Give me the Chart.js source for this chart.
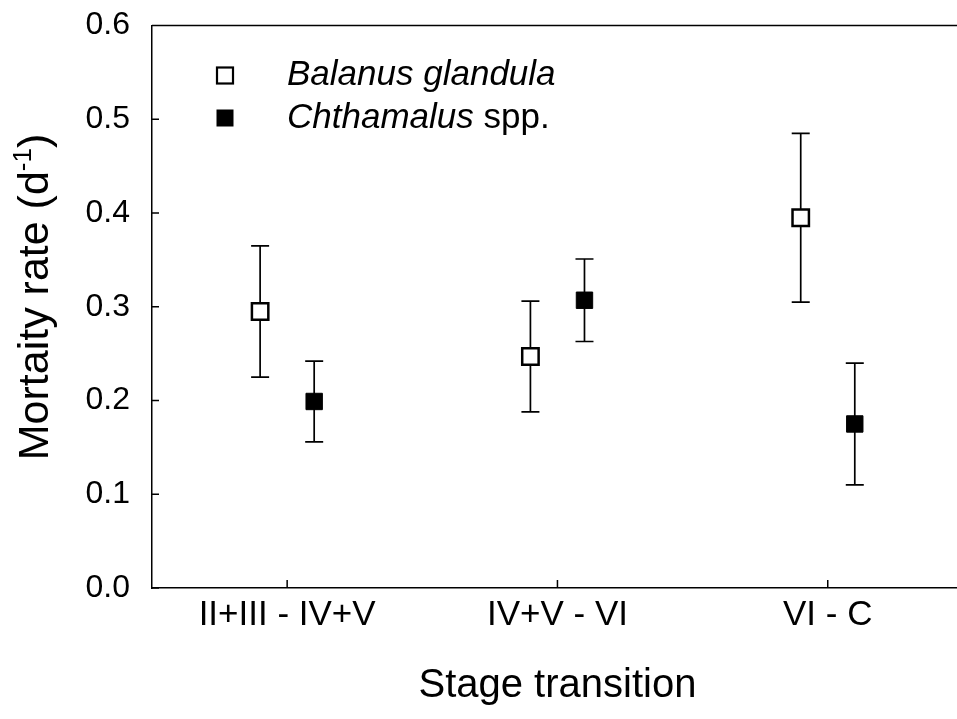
<!DOCTYPE html>
<html><head><meta charset="utf-8">
<script src="https://cdn.jsdelivr.net/npm/chart.js@4/dist/chart.umd.min.js"></script>
<style>
html,body{margin:0;padding:0;background:#fff;overflow:hidden;width:957px;height:719px}
#wrap{position:absolute;left:0;top:0;width:977px;height:719px}
</style>
</head><body><div id="wrap"><canvas id="c" width="977" height="719"></canvas></div>
<script>
// ---- data ----
const categories = ['II+III - IV+V', 'IV+V - VI', 'VI - C'];
const balanusMean = [0.295, 0.247, 0.395];
const balanusErr = [0.070, 0.059, 0.090];
const chthamalusMean = [0.199, 0.307, 0.175];
const chthamalusErr = [0.043, 0.044, 0.065];
const yTicks = [0.0, 0.1, 0.2, 0.3, 0.4, 0.5, 0.6];
const xTitle = 'Stage transition';
const yTitleMain = 'Mortaity rate (d';
const yTitleSup = '-1';
const yTitleEnd = ')';
const legendItems = [
  {italic: 'Balanus glandula', plain: '', fill: '#ffffff'},
  {italic: 'Chthamalus', plain: ' spp.', fill: '#000000'}
];

const FONT = "'Liberation Sans', Arial, Helvetica, sans-serif";
const errs = [balanusErr, chthamalusErr];
const means = [balanusMean, chthamalusMean];
const offsets = [-0.1, 0.1];

const errorBarPlugin = {
  id: 'errorBars',
  beforeDatasetsDraw(chart) {
    const ctx = chart.ctx, y = chart.scales.y;
    ctx.save();
    ctx.strokeStyle = '#000';
    ctx.lineWidth = 1.7;
    means.forEach((m, d) => {
      const meta = chart.getDatasetMeta(d);
      m.forEach((v, i) => {
        const px = meta.data[i].x;
        const top = y.getPixelForValue(v + errs[d][i]);
        const bot = y.getPixelForValue(v - errs[d][i]);
        ctx.beginPath();
        ctx.moveTo(px, top); ctx.lineTo(px, bot);
        ctx.moveTo(px - 9, top); ctx.lineTo(px + 9, top);
        ctx.moveTo(px - 9, bot); ctx.lineTo(px + 9, bot);
        ctx.stroke();
      });
    });
    ctx.restore();
  }
};

const framePlugin = {
  id: 'frame',
  afterDraw(chart) {
    const ctx = chart.ctx, a = chart.chartArea, x = chart.scales.x, y = chart.scales.y;
    ctx.save();
    ctx.strokeStyle = '#000';
    ctx.lineWidth = 1.5;
    ctx.beginPath();
    ctx.moveTo(a.left, a.top); ctx.lineTo(a.right, a.top);
    y.ticks.forEach(t => {
      const py = y.getPixelForValue(t.value);
      ctx.moveTo(a.left, py); ctx.lineTo(a.left + 7, py);
    });
    x.ticks.forEach(t => {
      const px = x.getPixelForValue(t.value);
      ctx.moveTo(px, a.bottom); ctx.lineTo(px, a.bottom - 8);
    });
    ctx.stroke();
    // y-axis title with superscript
    ctx.save();
    ctx.fillStyle = '#000';
    ctx.textBaseline = 'middle';
    ctx.textAlign = 'left';
    const fMain = '43px ' + FONT, fSup = '26px ' + FONT;
    ctx.font = fMain;
    const w1 = ctx.measureText(yTitleMain).width;
    const w3 = ctx.measureText(yTitleEnd).width;
    ctx.font = fSup;
    const w2 = ctx.measureText(yTitleSup).width;
    const total = w1 + w2 + w3;
    ctx.translate(36, 297);
    ctx.rotate(-Math.PI / 2);
    let cx = -total / 2;
    ctx.font = fMain; ctx.fillText(yTitleMain, cx, 0); cx += w1;
    ctx.font = fSup; ctx.fillText(yTitleSup, cx, -12); cx += w2;
    ctx.font = fMain; ctx.fillText(yTitleEnd, cx, 0);
    ctx.restore();
    // legend
    ctx.textBaseline = 'middle';
    ctx.textAlign = 'left';
    const ly = [75.5, 118];
    legendItems.forEach((it, k) => {
      ctx.fillStyle = it.fill;
      ctx.fillRect(217, ly[k] - 8, 16, 16);
      ctx.lineWidth = it.fill === '#ffffff' ? 2.2 : 1;
      ctx.strokeRect(217, ly[k] - 8, 16, 16);
      ctx.fillStyle = '#000';
      ctx.font = 'italic 35px ' + FONT;
      ctx.fillText(it.italic, 287, ly[k]);
      const w = ctx.measureText(it.italic).width;
      ctx.font = '35px ' + FONT;
      ctx.fillText(it.plain, 287 + w, ly[k]);
    });
    ctx.restore();
  }
};

new Chart(document.getElementById('c'), {
  type: 'scatter',
  data: {
    datasets: [
      {
        label: legendItems[0].italic,
        data: categories.map((c, i) => ({x: i + 1 + offsets[0], y: balanusMean[i]})),
        pointStyle: 'rect', pointRadius: 11.6, pointHoverRadius: 11.6,
        backgroundColor: '#ffffff', borderColor: '#000000', borderWidth: 2.5
      },
      {
        label: legendItems[1].italic + legendItems[1].plain,
        data: categories.map((c, i) => ({x: i + 1 + offsets[1], y: chthamalusMean[i]})),
        pointStyle: 'rect', pointRadius: 11.6, pointHoverRadius: 11.6,
        backgroundColor: '#000000', borderColor: '#000000', borderWidth: 1
      }
    ]
  },
  options: {
    responsive: false,
    animation: false,
    devicePixelRatio: 1,
    layout: {padding: {left: 0, top: 25.6, right: 0, bottom: 0}},
    plugins: {legend: {display: false}, tooltip: {enabled: false}},
    scales: {
      x: {
        type: 'linear', min: 0.5, max: 3.5,
        afterBuildTicks: s => { s.ticks = categories.map((c, i) => ({value: i + 1})); },
        afterFit: s => { s.height = 131; },
        grid: {display: false, drawTicks: false},
        border: {display: true, color: '#000', width: 1.5},
        ticks: {
          autoSkip: false, maxRotation: 0, padding: 6, color: '#000',
          font: {family: FONT, size: 35},
          callback: v => categories[Math.round(v) - 1]
        },
        title: {display: true, text: xTitle, color: '#000', font: {family: FONT, size: 40}, padding: {top: 0, bottom: 9}}
      },
      y: {
        type: 'linear', min: 0, max: 0.6,
        afterBuildTicks: s => { s.ticks = yTicks.map(v => ({value: v})); },
        afterFit: s => { s.width = 152; },
        grid: {display: false, drawTicks: false},
        border: {display: true, color: '#000', width: 1.5},
        ticks: {
          padding: 22, color: '#000',
          font: {family: FONT, size: 32, lineHeight: 0.1},
          callback: v => Number(v).toFixed(1)
        },
        title: {display: false}
      }
    }
  },
  plugins: [errorBarPlugin, framePlugin]
});
</script>
</body></html>
